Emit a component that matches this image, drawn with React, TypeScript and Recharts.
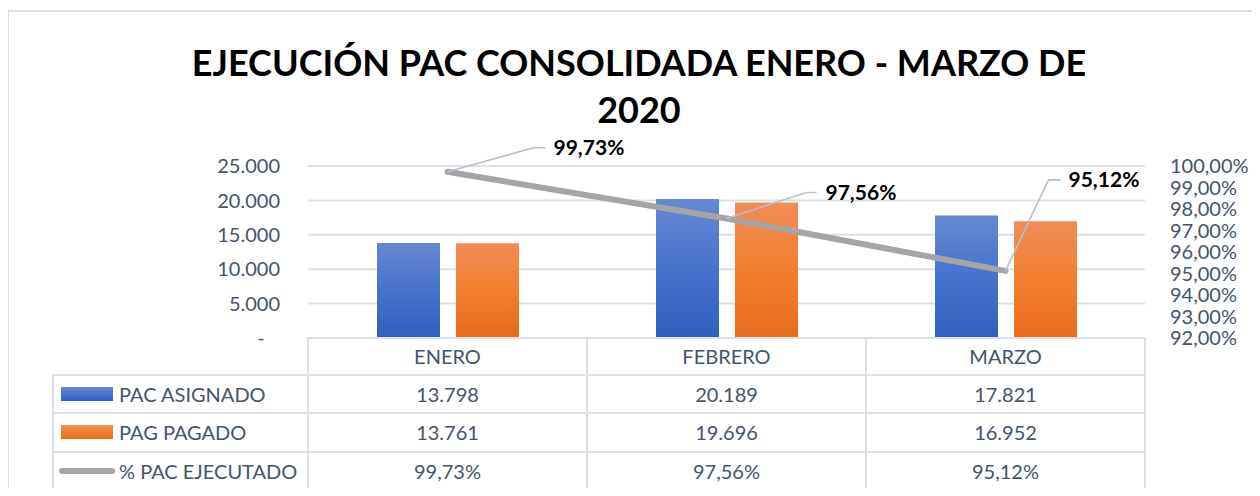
import React from 'react';
import { ComposedChart, Bar, Line, XAxis, YAxis, CartesianGrid, LabelList } from 'recharts';

const categories = ['ENERO', 'FEBRERO', 'MARZO'];
const pacAsignado = [13798, 20189, 17821];
const pagPagado = [13761, 19696, 16952];
const pctEjecutado = [0.9973, 0.9756, 0.9512];
const leftTicks = [0, 5000, 10000, 15000, 20000, 25000];
const rightTicks = [0.92, 0.93, 0.94, 0.95, 0.96, 0.97, 0.98, 0.99, 1.0];
const seriesNames = ['PAC ASIGNADO', 'PAG PAGADO', '% PAC EJECUTADO'];
const titleLines = ['EJECUCIÓN PAC CONSOLIDADA ENERO - MARZO DE', '2020'];

const data = categories.map((c, i) => ({
  name: c,
  asignado: pacAsignado[i],
  pagado: pagPagado[i],
  pct: pctEjecutado[i],
}));

// label placement (offsets from the point)
const labelOffsets = [
  { ex: 86, ey: -24, hx: 98, tx: 106 },
  { ex: 80, ey: -26, hx: 90, tx: 99 },
  { ex: 43, ey: -91, hx: 55, tx: 63 },
];

const FONT = 'Lato, "Open Sans", sans-serif';
const TEXT = '#44546A';
const GRID = '#DCE0E6';

const fmtNum = (n: number) =>
  n === 0 ? '-\u00A0\u00A0\u00A0' : String(n).replace(/\B(?=(\d{3})+(?!\d))/g, '.');
const fmtPct = (v: number) => (v * 100).toFixed(2).replace('.', ',') + '%';

const W = 1252;
const H = 480;
const PL = 300;
const PR = 1137;
const PT = 158;
const PB = 330;
const colW = (PR - PL) / categories.length;
const rows = [330, 367, 405, 444, 482];
const TABLE_LEFT = 45;

const PctLabel = (props: any) => {
  const { x, y, value, index } = props;
  const o = labelOffsets[index];
  return (
    <g>
      <polyline
        points={`${x},${y} ${x + o.ex},${y + o.ey} ${x + o.hx},${y + o.ey}`}
        fill="none"
        stroke="#B4C1D2"
        strokeWidth={1.6}
      />
      <text
        x={x + o.tx}
        y={y + o.ey}
        dy="0.36em"
        textAnchor="start"
        fontFamily={FONT}
        fontWeight={700}
        fontSize={21}
        fill="#000"
      >
        {fmtPct(value)}
      </text>
    </g>
  );
};

const hLine = (y: number, x1: number, x2: number, key: string) => (
  <div key={key} style={{ position: 'absolute', left: x1 - 1, top: y - 1, width: x2 - x1 + 2, height: 2, background: GRID }} />
);
const vLine = (x: number, y1: number, y2: number, key: string) => (
  <div key={key} style={{ position: 'absolute', left: x - 1, top: y1 - 1, width: 2, height: y2 - y1 + 2, background: GRID }} />
);

const cellText = (text: string, left: number, top: number, width: number, height: number, key: string, align: any = 'center') => (
  <div
    key={key}
    style={{
      position: 'absolute',
      left,
      top,
      width,
      height,
      lineHeight: height + 'px',
      textAlign: align,
      fontFamily: FONT,
      fontSize: 20,
      color: TEXT,
      whiteSpace: 'nowrap',
    }}
  >
    {text}
  </div>
);

export default function App() {
  const rowValues = [pacAsignado.map(fmtNum), pagPagado.map(fmtNum), pctEjecutado.map(fmtPct)];
  const lines: any[] = [];
  lines.push(hLine(rows[0], PL, PR, 'h0'));
  for (let r = 1; r < rows.length; r++) lines.push(hLine(rows[r], TABLE_LEFT, PR, 'h' + r));
  lines.push(vLine(TABLE_LEFT, rows[1], rows[4], 'vl'));
  for (let c = 0; c <= categories.length; c++) lines.push(vLine(PL + c * colW, rows[0], rows[4], 'v' + c));

  const texts: any[] = [];
  categories.forEach((c, i) => texts.push(cellText(c, PL + i * colW, rows[0], colW, rows[1] - rows[0], 'c' + i)));
  rowValues.forEach((vals, r) =>
    vals.forEach((v, i) =>
      texts.push(cellText(v, PL + i * colW, rows[r + 1], colW, rows[r + 2] - rows[r + 1], `r${r}c${i}`))
    )
  );
  seriesNames.forEach((s, r) =>
    texts.push(cellText(s, 111, rows[r + 1], 190, rows[r + 2] - rows[r + 1], 's' + r, 'left'))
  );

  return (
    <div style={{ position: 'relative', width: W, height: H }}>
      <svg width={0} height={0} style={{ position: 'absolute' }}>
        <defs>
          <linearGradient id="gBlue" x1="0" y1="0" x2="0" y2="1">
            <stop offset="0%" stopColor="#6688D3" />
            <stop offset="50%" stopColor="#4673CB" />
            <stop offset="100%" stopColor="#2F60BD" />
          </linearGradient>
          <linearGradient id="gOrange" x1="0" y1="0" x2="0" y2="1">
            <stop offset="0%" stopColor="#F08D57" />
            <stop offset="50%" stopColor="#F27F2E" />
            <stop offset="100%" stopColor="#E76C1B" />
          </linearGradient>
        </defs>
      </svg>
      <div
        style={{
          position: 'absolute',
          left: -1,
          top: 2,
          width: W + 1,
          height: 486,
          borderTop: '2px solid ' + GRID,
          borderLeft: '2px solid ' + GRID,
          boxSizing: 'border-box',
        }}
      />
      {titleLines.map((t, i) => (
        <div
          key={'t' + i}
          style={{
            position: 'absolute',
            left: 0,
            width: 1262,
            top: 30 + i * 47,
            height: 48,
            lineHeight: '48px',
            textAlign: 'center',
            fontFamily: FONT,
            fontWeight: 700,
            fontSize: 36,
            color: '#000',
            whiteSpace: 'nowrap',
          }}
        >
          {t}
        </div>
      ))}
      <div style={{ position: 'absolute', left: 0, top: 0 }}>
        <ComposedChart
          width={W}
          height={H}
          data={data}
          barGap={16}
          margin={{ top: PT, right: W - PR - 80, bottom: H - PB, left: PL - 60 }}
        >
          <CartesianGrid yAxisId="left" vertical={false} stroke={GRID} strokeWidth={2} />
          <XAxis dataKey="name" hide />
          <YAxis
            yAxisId="left"
            width={60}
            domain={[0, 25000]}
            ticks={leftTicks}
            tickFormatter={fmtNum}
            axisLine={false}
            tickLine={false}
            tickSize={0}
            tickMargin={28}
            tick={{ fontFamily: FONT, fontSize: 20, fill: TEXT }}
            interval={0}
          />
          <YAxis
            yAxisId="right"
            orientation="right"
            width={80}
            domain={[0.92, 1.0]}
            ticks={rightTicks}
            tickFormatter={fmtPct}
            axisLine={false}
            tickLine={false}
            tickSize={0}
            tickMargin={25}
            tick={{ fontFamily: FONT, fontSize: 20, fill: TEXT, textAnchor: 'start' }}
            interval={0}
          />
          <Bar yAxisId="left" dataKey="asignado" fill="url(#gBlue)" barSize={63} isAnimationActive={false} />
          <Bar yAxisId="left" dataKey="pagado" fill="url(#gOrange)" barSize={63} isAnimationActive={false} />
          <Line
            yAxisId="right"
            dataKey="pct"
            stroke="#A5A5A5"
            strokeWidth={6}
            strokeLinecap="round"
            dot={false}
            isAnimationActive={false}
          >
            <LabelList dataKey="pct" content={PctLabel} />
          </Line>
        </ComposedChart>
      </div>
      {lines}
      <svg width={80} height={130} style={{ position: 'absolute', left: 45, top: 367 }}>
        <rect x={8} y={12} width={52} height={14} fill="url(#gBlue)" />
        <rect x={8} y={50} width={52} height={14} fill="url(#gOrange)" />
        <line x1={9} y1={96} x2={59} y2={96} stroke="#A5A5A5" strokeWidth={6} strokeLinecap="round" />
      </svg>
      {texts}
    </div>
  );
}
